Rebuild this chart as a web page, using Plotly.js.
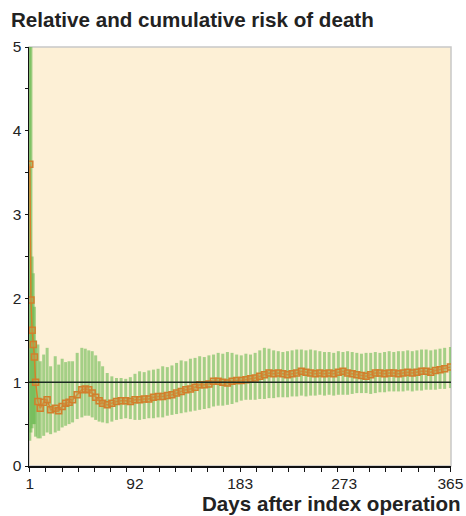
<!DOCTYPE html>
<html>
<head>
<meta charset="utf-8">
<script src="https://cdn.plot.ly/plotly-3.0.1.min.js"></script>
<style>html,body{margin:0;padding:0;background:#fff;}#chart{width:466px;height:516px;}</style>
</head>
<body>
<div id="chart"></div>
<script>
// Days after index operation
const days = [1,2,3,4,5,6,8,10,13,16,19,23,26,29,32,35,38,42,46,49,52,55,58,61,64,68,72,76,80,84,88,92,96,100,104,108,112,116,120,124,128,132,136,140,144,148,152,156,160,164,168,172,176,180,184,188,192,196,200,204,208,212,216,220,224,228,232,236,240,244,248,252,256,260,264,268,272,276,280,284,288,292,296,300,304,308,312,316,320,324,328,332,336,340,344,348,352,356,360,365];
// Relative risk (point estimate)
const risk = [3.6,1.98,1.62,1.45,1.3,1.0,0.77,0.69,0.76,0.79,0.67,0.69,0.66,0.71,0.75,0.76,0.79,0.85,0.91,0.92,0.91,0.87,0.82,0.78,0.75,0.73,0.75,0.77,0.78,0.78,0.77,0.79,0.79,0.80,0.80,0.82,0.83,0.83,0.84,0.85,0.87,0.89,0.91,0.92,0.94,0.97,0.97,0.98,1.01,1.01,1.0,0.99,1.01,1.02,1.02,1.03,1.04,1.05,1.07,1.09,1.11,1.10,1.11,1.10,1.09,1.10,1.11,1.13,1.12,1.11,1.10,1.11,1.10,1.11,1.10,1.12,1.13,1.11,1.10,1.09,1.08,1.07,1.09,1.11,1.11,1.10,1.11,1.11,1.10,1.11,1.12,1.11,1.12,1.13,1.13,1.12,1.14,1.15,1.16,1.18];
// Lower confidence limit
const lower = [0.3,0.4,0.45,0.5,0.5,0.35,0.33,0.33,0.36,0.4,0.38,0.4,0.42,0.46,0.48,0.5,0.52,0.56,0.58,0.6,0.6,0.58,0.55,0.53,0.52,0.51,0.53,0.55,0.56,0.57,0.56,0.55,0.55,0.56,0.57,0.57,0.58,0.58,0.6,0.61,0.62,0.63,0.64,0.65,0.66,0.67,0.68,0.69,0.71,0.72,0.72,0.73,0.74,0.76,0.78,0.79,0.79,0.79,0.8,0.8,0.81,0.81,0.82,0.82,0.82,0.83,0.83,0.84,0.83,0.84,0.84,0.85,0.84,0.85,0.84,0.85,0.85,0.85,0.86,0.87,0.87,0.87,0.86,0.87,0.88,0.88,0.89,0.89,0.89,0.89,0.9,0.89,0.9,0.9,0.91,0.91,0.91,0.92,0.92,0.93];
// Upper confidence limit
const upper = [9,6,2.5,2.3,1.9,1.5,1.45,1.25,1.33,1.41,1.19,1.31,1.21,1.28,1.24,1.25,1.25,1.35,1.41,1.4,1.38,1.37,1.32,1.25,1.19,1.11,1.07,1.05,1.05,1.04,1.06,1.1,1.13,1.12,1.14,1.15,1.16,1.19,1.18,1.2,1.23,1.26,1.25,1.28,1.29,1.31,1.3,1.32,1.33,1.35,1.34,1.36,1.35,1.33,1.32,1.34,1.33,1.35,1.38,1.41,1.4,1.38,1.37,1.36,1.37,1.38,1.39,1.39,1.38,1.39,1.38,1.37,1.36,1.36,1.35,1.37,1.36,1.37,1.36,1.35,1.34,1.35,1.35,1.36,1.35,1.36,1.37,1.36,1.37,1.37,1.38,1.37,1.38,1.39,1.39,1.38,1.39,1.4,1.41,1.42];
// Axis tick labels
const xTicks = [1,92,183,273,365];
const yTicks = [0,1,2,3,4,5];

const errPlus = upper.map((u,i)=>u-risk[i]);
const errMinus = risk.map((r,i)=>r-lower[i]);

const FONT = '"Liberation Sans", Arial, Helvetica, sans-serif';

const trace = {
  x: days, y: risk, type: 'scatter', mode: 'lines+markers',
  line: {color: '#d4822a', width: 1.5},
  marker: {symbol: 'square', size: 6, color: 'rgba(200,160,80,0.45)', line: {color: '#d27f2c', width: 1.5}},
  error_y: {type: 'data', symmetric: false, array: errPlus, arrayminus: errMinus,
            color: 'rgba(105,185,80,0.6)', thickness: 3, width: 0},
  hoverinfo: 'skip', showlegend: false
};

const layout = {
  width: 466, height: 516,
  margin: {l: 29, r: 15, t: 47, b: 50},
  paper_bgcolor: '#ffffff',
  plot_bgcolor: '#fdf0d6',
  font: {family: FONT, size: 15, color: '#222'},
  title: {text: '<b>Relative and cumulative risk of death</b>', font: {family: FONT, size: 20.6, color: '#222'},
          x: 11/466, xanchor: 'left', xref: 'container', y: 1 - 20/516, yref: 'container', yanchor: 'middle'},
  xaxis: {range: [0.3, 365.5], tickmode: 'array', tickvals: xTicks, ticktext: xTicks.map(String),
          ticks: '', showgrid: false, zeroline: false, showline: true, linecolor: '#111', linewidth: 1.5,
          ticklabelstandoff: 3,
          tickfont: {family: FONT, size: 15.5, color: '#222'},
          minor: {tickmode: 'linear', tick0: 1, dtick: 14, ticks: 'outside', ticklen: 4, tickcolor: '#111', tickwidth: 1, showgrid: false}},
  yaxis: {range: [0, 5], tickmode: 'array', tickvals: yTicks, ticks: 'outside', ticklen: 3, tickcolor: '#111', tickwidth: 1,
          showgrid: false, zeroline: false, showline: true, linecolor: '#111', linewidth: 1.5,
          tickfont: {family: FONT, size: 15.5, color: '#222'},
          minor: {tickmode: 'linear', tick0: 0, dtick: 0.5, ticks: 'outside', ticklen: 3, tickcolor: '#111', tickwidth: 1, showgrid: false}},
  shapes: [
    {type: 'rect', xref: 'paper', yref: 'paper', x0: 0, x1: 1, y0: 0, y1: 1, line: {color: '#c8c8c8', width: 1.5}, layer: 'below'},
    {type: 'line', xref: 'paper', yref: 'y', x0: 0, x1: 1, y0: 1, y1: 1, line: {color: '#1a2a22', width: 1.5}, layer: 'above'}
  ],
  annotations: [
    {text: '<b>Days after index operation</b>', xref: 'paper', yref: 'paper', x: 1, y: 0, xanchor: 'right', yanchor: 'middle',
     xshift: 12, yshift: -37, showarrow: false, font: {family: FONT, size: 20.6, color: '#222'}}
  ]
};

Plotly.newPlot('chart', [trace], layout, {staticPlot: true, displayModeBar: false});
</script>
</body>
</html>
